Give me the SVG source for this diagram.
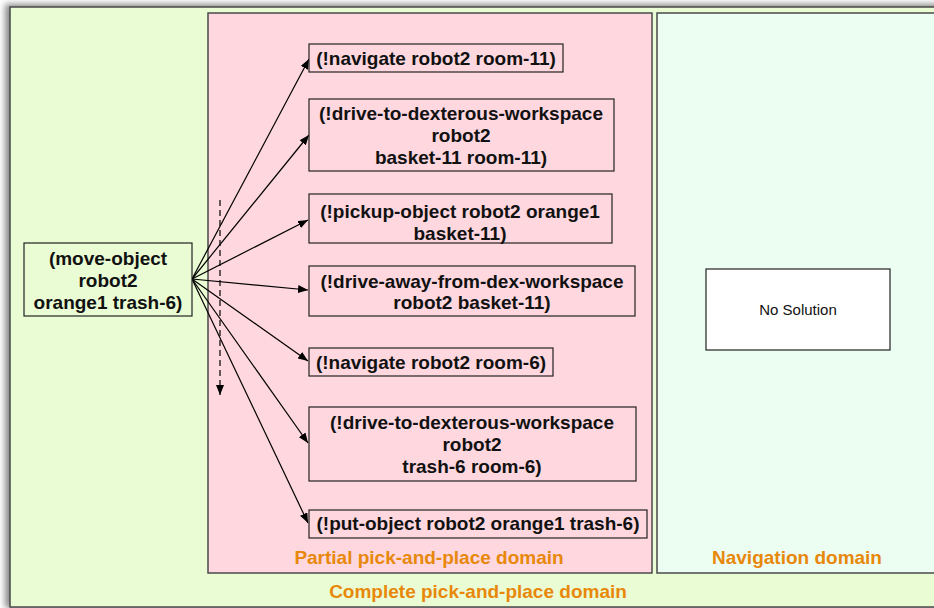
<svg xmlns="http://www.w3.org/2000/svg" width="934" height="608" viewBox="0 0 934 608">
  <style>
    .frame { stroke: #4a4a4a; stroke-width: 1.5; }
    .node rect { stroke: #222; stroke-width: 1.2; }
    .node text { font-family: "Liberation Sans", Arial, sans-serif; font-weight: bold; font-size: 19px; fill: #111; text-anchor: middle; }
    .domain { font-family: "Liberation Sans", Arial, sans-serif; font-weight: bold; font-size: 19px; fill: #e8880b; text-anchor: middle; }
    .edge { stroke: #000; stroke-width: 1.2; fill: none; marker-end: url(#arrow); }
    .dashed { stroke-dasharray: 6 4; }
  </style>
  <defs>
    <marker id="arrow" viewBox="0 0 10 8" refX="10" refY="4" markerWidth="10" markerHeight="8" markerUnits="userSpaceOnUse" orient="auto">
      <path d="M0,0 L10,4 L0,8 z" fill="#000"/>
    </marker>
    <filter id="shadow" x="-5%" y="-5%" width="110%" height="110%">
      <feGaussianBlur stdDeviation="3"/>
    </filter>
  </defs>

  <rect width="934" height="608" fill="#ffffff"/>

  <!-- Domain frames -->
  <g id="complete-domain">
    <rect x="5" y="4" width="940" height="604" fill="#8a8a8a" filter="url(#shadow)"/>
    <rect x="10" y="7" width="940" height="600" fill="#eafcd4" class="frame"/>
    <text class="domain" x="478" y="598">Complete pick-and-place domain</text>
  </g>
  <g id="partial-domain">
    <rect x="208" y="13" width="444" height="560" fill="#fed7df" class="frame"/>
    <text class="domain" x="429" y="564">Partial pick-and-place domain</text>
  </g>
  <g id="navigation-domain">
    <rect x="657" y="13" width="290" height="560" fill="#ecfdf2" class="frame"/>
    <text class="domain" x="797" y="564">Navigation domain</text>
  </g>

  <!-- Connectors -->
  <g id="connectors">
    <line class="edge" x1="192" y1="279" x2="309" y2="59"/>
    <line class="edge" x1="192" y1="279" x2="309" y2="135"/>
    <line class="edge" x1="192" y1="279" x2="308" y2="220"/>
    <line class="edge" x1="192" y1="279" x2="308" y2="290"/>
    <line class="edge" x1="192" y1="279" x2="308" y2="361"/>
    <line class="edge" x1="192" y1="279" x2="308" y2="443"/>
    <line class="edge" x1="192" y1="279" x2="308" y2="523"/>
    <line class="edge dashed" x1="220" y1="200" x2="220" y2="395"/>
  </g>

  <!-- Nodes -->
  <g id="move-object" class="node">
    <rect x="24" y="243" width="168" height="73" fill="#eafcd4"/>
    <text x="108" y="265">(move-object</text>
    <text x="108" y="287">robot2</text>
    <text x="108" y="309">orange1 trash-6)</text>
  </g>
  <g id="navigate-room-11" class="node">
    <rect x="309" y="44" width="254" height="28" fill="#fed7df"/>
    <text x="436" y="65">(!navigate robot2 room-11)</text>
  </g>
  <g id="drive-to-dex-basket" class="node">
    <rect x="309" y="99" width="305" height="72" fill="#fed7df"/>
    <text x="461" y="120">(!drive-to-dexterous-workspace</text>
    <text x="461" y="142">robot2</text>
    <text x="461" y="164">basket-11 room-11)</text>
  </g>
  <g id="pickup-object" class="node">
    <rect x="309" y="194" width="303" height="49" fill="#fed7df"/>
    <text x="460" y="218">(!pickup-object robot2 orange1</text>
    <text x="460" y="240">basket-11)</text>
  </g>
  <g id="drive-away" class="node">
    <rect x="309" y="266" width="326" height="50" fill="#fed7df"/>
    <text x="472" y="288">(!drive-away-from-dex-workspace</text>
    <text x="472" y="309">robot2 basket-11)</text>
  </g>
  <g id="navigate-room-6" class="node">
    <rect x="309" y="348" width="244" height="28" fill="#fed7df"/>
    <text x="431" y="369">(!navigate robot2 room-6)</text>
  </g>
  <g id="drive-to-dex-trash" class="node">
    <rect x="309" y="407" width="327" height="74" fill="#fed7df"/>
    <text x="472" y="429">(!drive-to-dexterous-workspace</text>
    <text x="472" y="451">robot2</text>
    <text x="472" y="473">trash-6 room-6)</text>
  </g>
  <g id="put-object" class="node">
    <rect x="309" y="510" width="338" height="28" fill="#fed7df"/>
    <text x="478" y="530">(!put-object robot2 orange1 trash-6)</text>
  </g>
  <g id="no-solution" class="node">
    <rect x="706" y="269" width="184" height="81" fill="#ffffff"/>
    <text x="798" y="315" style="font-weight:normal;font-size:15px">No Solution</text>
  </g>
</svg>
